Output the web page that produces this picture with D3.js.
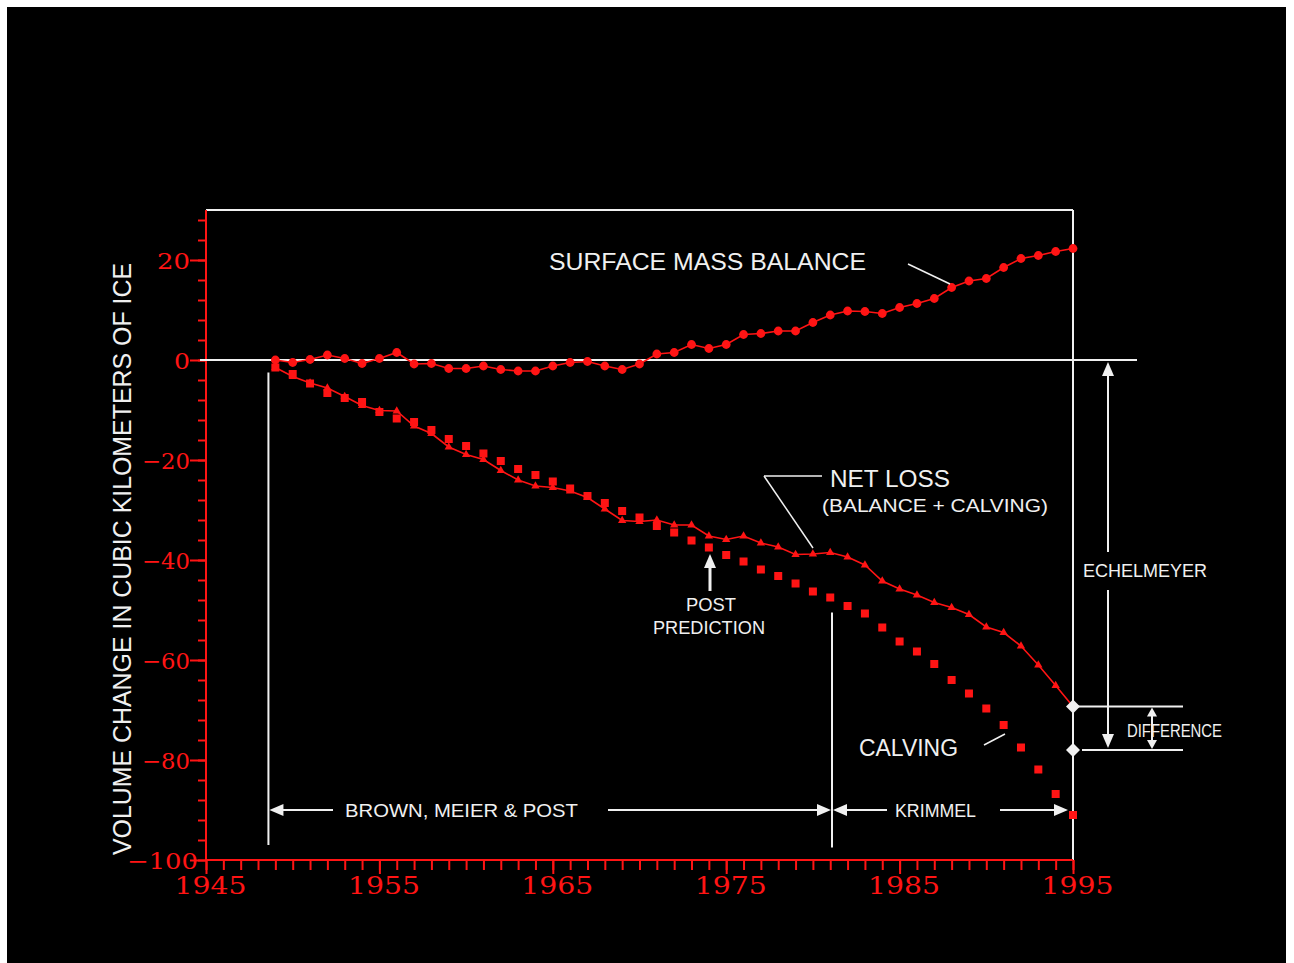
<!DOCTYPE html>
<html>
<head>
<meta charset="utf-8">
<script src="https://cdn.jsdelivr.net/npm/d3@7"></script>
<style>
  html, body { margin: 0; padding: 0; background: #fff; }
  svg { display: block; }
</style>
</head>
<body>
<script>
// Annual volume change of the glacier, cubic kilometres of ice
const years = [1949, 1950, 1951, 1952, 1953, 1954, 1955, 1956, 1957, 1958,
  1959, 1960, 1961, 1962, 1963, 1964, 1965, 1966, 1967, 1968,
  1969, 1970, 1971, 1972, 1973, 1974, 1975, 1976, 1977, 1978,
  1979, 1980, 1981, 1982, 1983, 1984, 1985, 1986, 1987, 1988,
  1989, 1990, 1991, 1992, 1993, 1994, 1995];

const surfaceMassBalance = [0.0, -0.5, 0.1, 1.0, 0.3, -0.7, 0.3, 1.5, -0.8, -0.7,
  -1.7, -1.7, -1.2, -1.9, -2.2, -2.2, -1.2, -0.5, -0.3, -1.2,
  -1.9, -0.8, 1.2, 1.5, 3.1, 2.3, 3.1, 5.1, 5.3, 5.8,
  5.8, 7.5, 9.0, 9.8, 9.7, 9.3, 10.5, 11.3, 12.3, 14.5,
  15.8, 16.3, 18.5, 20.3, 20.9, 21.7, 22.3];

const calving = [-1.5, -2.8, -4.7, -6.6, -7.6, -8.4, -10.4, -11.7, -12.4, -14.0,
  -15.8, -17.2, -18.7, -20.2, -21.8, -23.0, -24.3, -25.7, -27.2, -28.6,
  -30.2, -31.5, -33.2, -34.5, -36.1, -37.5, -39.0, -40.3, -41.9, -43.2,
  -44.7, -46.3, -47.5, -49.2, -50.7, -53.5, -56.3, -58.3, -60.8, -64.0,
  -66.7, -69.7, -73.0, -77.5, -81.9, -86.8, -91.0];

const netLoss = [-1.5, -3.3, -4.6, -5.6, -7.3, -9.1, -10.1, -10.2, -13.2, -14.7,
  -17.4, -18.9, -19.9, -22.1, -24.0, -25.2, -25.5, -26.2, -27.5, -29.8,
  -32.1, -32.3, -32.0, -33.0, -33.0, -35.2, -35.9, -35.2, -36.6, -37.4,
  -38.9, -38.8, -38.5, -39.4, -41.0, -44.2, -45.8, -47.0, -48.5, -49.5,
  -50.9, -53.4, -54.5, -57.2, -61.0, -65.1, -69.3];

// Independent estimate for 1995 and the two study periods
const echelmeyer1995 = -78;
const brownStart = 1948.6, krimmelStart = 1981.1, krimmelEnd = 1995;

const xTickLabels = [1945, 1955, 1965, 1975, 1985, 1995];
const yTickLabels = [20, 0, -20, -40, -60, -80, -100];

const W = 1294, H = 963;
const RED = "#ff1414";
const WHITE = "#f0f0f0";
const TEXT_FONT = "'Liberation Sans', 'DejaVu Sans', sans-serif";
const NUM_FONT = "'DejaVu Serif', 'Liberation Serif', serif";

const svg = d3.select("body").append("svg").attr("width", W).attr("height", H);
svg.append("rect").attr("width", W).attr("height", H).attr("fill", "#fff");
svg.append("rect").attr("x", 7).attr("y", 7).attr("width", 1279).attr("height", 956).attr("fill", "#000");

const x = d3.scaleLinear().domain([1945, 1995]).range([206, 1073]);
const y = d3.scaleLinear().domain([-100, 30]).range([860, 210]);

// ---- frame (white top/right) ----
svg.append("line").attr("x1", x(1945)).attr("x2", x(1995)).attr("y1", y(30)).attr("y2", y(30))
  .attr("stroke", WHITE).attr("stroke-width", 2);
svg.append("line").attr("x1", x(1995)).attr("x2", x(1995)).attr("y1", y(30)).attr("y2", y(-100))
  .attr("stroke", WHITE).attr("stroke-width", 2);

// ---- y axis ----
const yAxisG = svg.append("g").attr("transform", `translate(${x(1945)},0)`);
yAxisG.append("g")
  .call(d3.axisLeft(y).tickValues(d3.range(-100, 30, 4)).tickSize(8).tickFormat(""))
  .call(g => g.select(".domain").remove());
yAxisG.append("g")
  .call(d3.axisLeft(y).tickValues(yTickLabels).tickSize(16).tickPadding(0))
  .call(g => g.select(".domain").remove())
  .call(g => g.selectAll("text")
    .attr("x", d => d === -100 ? -8 : -16)
    .attr("dy", "0.38em")
    .attr("fill", RED)
    .attr("font-family", NUM_FONT)
    .attr("font-size", 23)
    .attr("textLength", d => ({1: 16, 2: 33, 3: 48, 4: 71})[String(d).length])
    .attr("lengthAdjust", "spacingAndGlyphs"));
yAxisG.selectAll("line").attr("stroke", RED).attr("stroke-width", 2);
yAxisG.append("line").attr("x1", 0).attr("x2", 0).attr("y1", y(30)).attr("y2", y(-100))
  .attr("stroke", RED).attr("stroke-width", 2);

// ---- x axis ----
const xAxisG = svg.append("g").attr("transform", `translate(0,${y(-100)})`);
xAxisG.append("g")
  .call(d3.axisBottom(x).tickValues(d3.range(1945, 1996, 1)).tickSize(10).tickFormat(""))
  .call(g => g.select(".domain").remove());
xAxisG.append("g")
  .call(d3.axisBottom(x).tickValues(xTickLabels).tickSize(14).tickFormat(d3.format("d")))
  .call(g => g.select(".domain").remove())
  .call(g => g.selectAll("text")
    .attr("y", 34).attr("dy", 0).attr("dx", 4)
    .attr("fill", RED)
    .attr("font-family", NUM_FONT)
    .attr("font-size", 24)
    .attr("textLength", 72)
    .attr("lengthAdjust", "spacingAndGlyphs"));
xAxisG.selectAll("line").attr("stroke", RED).attr("stroke-width", 2);
xAxisG.append("line").attr("x1", x(1945)).attr("x2", x(1995)).attr("y1", 0).attr("y2", 0)
  .attr("stroke", RED).attr("stroke-width", 2);

// ---- zero line ----
svg.append("line").attr("x1", x(1945) - 6).attr("x2", 1137).attr("y1", y(0)).attr("y2", y(0))
  .attr("stroke", WHITE).attr("stroke-width", 2);

// ---- y axis title ----
svg.append("text")
  .attr("transform", `translate(131,${(y(-98) + y(18.4)) / 2}) rotate(-90)`)
  .attr("text-anchor", "middle")
  .attr("fill", WHITE)
  .attr("font-family", TEXT_FONT)
  .attr("font-size", 25)
  .attr("textLength", 592)
  .attr("lengthAdjust", "spacingAndGlyphs")
  .text("VOLUME CHANGE IN CUBIC KILOMETERS OF ICE");

// ---- data series ----
const rows = years.map((yr, i) => ({ yr, bal: surfaceMassBalance[i], calv: calving[i], net: netLoss[i] }));

// calving: squares only
svg.append("g").selectAll("rect").data(rows).join("rect")
  .attr("x", d => x(d.yr) - 4).attr("y", d => y(d.calv) - 4)
  .attr("width", 8).attr("height", 8).attr("fill", RED);

// net loss: line with triangles
svg.append("path").datum(rows)
  .attr("d", d3.line().x(d => x(d.yr)).y(d => y(d.net)))
  .attr("fill", "none").attr("stroke", RED).attr("stroke-width", 1.6);
svg.append("g").selectAll("path").data(rows).join("path")
  .attr("transform", d => `translate(${x(d.yr)},${y(d.net)})`)
  .attr("d", d3.symbol(d3.symbolTriangle, 30))
  .attr("fill", RED);

// surface mass balance: line with round markers
svg.append("path").datum(rows)
  .attr("d", d3.line().x(d => x(d.yr)).y(d => y(d.bal)))
  .attr("fill", "none").attr("stroke", RED).attr("stroke-width", 1.6);
svg.append("g").selectAll("circle").data(rows).join("circle")
  .attr("cx", d => x(d.yr)).attr("cy", d => y(d.bal)).attr("r", 4.4)
  .attr("fill", RED);

// ---- annotation helpers ----
function line(x1, y1, x2, y2, w = 2) {
  svg.append("line").attr("x1", x1).attr("y1", y1).attr("x2", x2).attr("y2", y2)
    .attr("stroke", WHITE).attr("stroke-width", w);
}
function arrowHead(tx, ty, dir, len = 14, half = 6) {
  // dir: "left" | "right" | "up" | "down"
  let pts;
  if (dir === "left") pts = [[tx, ty], [tx + len, ty - half], [tx + len, ty + half]];
  if (dir === "right") pts = [[tx, ty], [tx - len, ty - half], [tx - len, ty + half]];
  if (dir === "up") pts = [[tx, ty], [tx - half, ty + len], [tx + half, ty + len]];
  if (dir === "down") pts = [[tx, ty], [tx - half, ty - len], [tx + half, ty - len]];
  svg.append("path").attr("d", "M" + pts.map(p => p.join(",")).join("L") + "Z").attr("fill", WHITE);
}
function label(txt, x0, base, size, width) {
  svg.append("text").attr("x", x0).attr("y", base)
    .attr("fill", WHITE).attr("font-family", TEXT_FONT).attr("font-size", size)
    .attr("textLength", width).attr("lengthAdjust", "spacingAndGlyphs")
    .text(txt);
}

// period markers
const xb = x(brownStart), xk = x(krimmelStart), xe = x(krimmelEnd);
line(xb, y(-2.5), xb, y(-97));
line(xk, y(-50.5), xk, y(-97.5));
const dimY = 810;
arrowHead(xb + 1, dimY, "left");
line(xb + 14, dimY, 333, dimY);
label("BROWN, MEIER & POST", 345, 817, 19, 233);
line(608, dimY, xk - 14, dimY);
arrowHead(xk - 1, dimY, "right");
arrowHead(xk + 1, dimY, "left");
line(xk + 14, dimY, 887, dimY);
label("KRIMMEL", 895, 817, 19, 81);
line(1000, dimY, xe - 18, dimY);
arrowHead(xe - 5, dimY, "right");

// surface mass balance label
label("SURFACE MASS BALANCE", 549, 270, 24, 317);
line(908, 264, 950, 284, 1.5);

// net loss label
label("NET LOSS", 830, 487, 23, 120);
label("(BALANCE + CALVING)", 822, 512, 18, 226);
line(764, 476, 822, 476, 1.5);
line(764, 476, 813, 548, 1.5);

// Post prediction
line(710, 566, 710, 591, 3);
arrowHead(710, 554, "up", 14, 6);
label("POST", 686, 611, 18, 50);
label("PREDICTION", 653, 634, 18, 112);

// calving label
label("CALVING", 859, 756, 23, 99);
line(984, 745, 1005, 734, 1.5);

// Echelmeyer estimate and difference
const yNet95 = y(netLoss[netLoss.length - 1]);
const yEch = y(echelmeyer1995);
line(xe, yNet95, 1183, yNet95);
line(xe + 9, yEch, 1183, yEch);
const xEch = 1108;
line(xEch, y(0) + 14, xEch, 552);
line(xEch, 590, xEch, yEch - 14);
arrowHead(xEch, y(0) + 2, "up");
arrowHead(xEch, yEch - 2, "down");
label("ECHELMEYER", 1083, 577, 19, 124);

const xDiff = 1152;
line(xDiff, yNet95 + 8, xDiff, yEch - 8);
arrowHead(xDiff, yNet95 + 1, "up", 9, 5);
arrowHead(xDiff, yEch - 1, "down", 9, 5);
label("DIFFERENCE", 1127, 737, 18, 95);

// end-point diamonds
[yNet95, yEch].forEach(yy => {
  svg.append("path")
    .attr("d", `M${xe},${yy - 7}L${xe + 7},${yy}L${xe},${yy + 7}L${xe - 7},${yy}Z`)
    .attr("fill", WHITE);
});
</script>
</body>
</html>
